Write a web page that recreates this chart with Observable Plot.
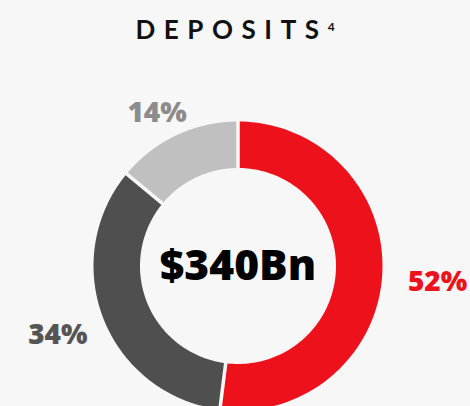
<!DOCTYPE html>
<html>
<head>
<meta charset="utf-8">
<script src="https://cdn.jsdelivr.net/npm/d3@7"></script>
<script src="https://cdn.jsdelivr.net/npm/@observablehq/plot@0.6"></script>
<style>
  html, body { margin: 0; padding: 0; background: #f7f7f7; overflow: hidden; }
  body { width: 470px; height: 406px; }
  #title { height: 60px; box-sizing: border-box; padding-top: 14px; text-align: center;
    font-family: Lato, "Open Sans", sans-serif; font-weight: 700; font-size: 26px;
    letter-spacing: 0.33em; color: #111; line-height: 30px; padding-left: 0; }
  #title sup { font-size: 12px; letter-spacing: 0; vertical-align: 0; position: relative; top: -8px; margin-left: 0; }
  #chart svg { display: block; }
</style>
</head>
<body>
<div id="title"></div>
<div id="chart"></div>
<script>
// ---- data ----
const segments = ["Segment A", "Segment B", "Segment C"];
const shares = [52, 34, 14];
const shareLabels = ["52%", "34%", "14%"];
const sliceColors = ["#ec111a", "#4f4f4f", "#c0c0c0"];
const labelColors = ["#ec111a", "#555555", "#8c8c8c"];
const centerLabel = "$340Bn";
const titleText = "DEPOSITS";
const titleNote = "4";

document.getElementById("title").innerHTML = titleText + "<sup>" + titleNote + "</sup>";

// ---- layout ----
const W = 470, H = 346;
const cx = 237.5, cy = 205.5, R = 144.5;
const inner = 98 / R;          // inner radius relative to outer
const gap = 3.5 / R;           // gap width between slices (in outer-radius units)

const arcs = d3.pie().sort(null).value(d => d.value)(
  segments.map((s, i) => ({key: s, value: shares[i], label: shareLabels[i], i}))
);

// polygon points for each slice (angles clockwise from 12 o'clock)
const pts = [];
for (const a of arcs) {
  const n = 120;
  const dOut = gap / 2, dIn = (gap / 2) / inner;
  const o0 = a.startAngle + dOut, o1 = a.endAngle - dOut;
  const i0 = a.startAngle + dIn, i1 = a.endAngle - dIn;
  for (let k = 0; k <= n; k++) {
    const t = o0 + (o1 - o0) * k / n;
    pts.push({key: a.data.key, x: Math.sin(t), y: -Math.cos(t)});
  }
  for (let k = n; k >= 0; k--) {
    const t = i0 + (i1 - i0) * k / n;
    pts.push({key: a.data.key, x: inner * Math.sin(t), y: -inner * Math.cos(t)});
  }
}

// label positions derived from each slice's mid-angle
const labelPts = arcs.map(a => {
  const m = (a.startAngle + a.endAngle) / 2;
  return {x: (3 + 197 * Math.sin(m)) / R, y: (5.3 - 174.4 * Math.cos(m)) / R, text: a.data.label, i: a.data.i};
});

const font = "'Open Sans', Lato, sans-serif";

const chart = Plot.plot({
  width: W, height: H, margin: 0,
  style: {background: "transparent", fontFamily: font, overflow: "hidden"},
  x: {domain: [-1, 1], range: [cx - R, cx + R], axis: null},
  y: {domain: [-1, 1], range: [cy - R, cy + R], axis: null},
  color: {domain: segments, range: sliceColors},
  marks: [
    Plot.line(pts, {x: "x", y: "y", z: "key", fill: "key", stroke: null, curve: "linear-closed"}),
    Plot.text([centerLabel], {x: () => 0, y: () => 0, text: d => d, fontSize: 42.5, fontWeight: 800, fill: "#000", textAnchor: "middle", lineAnchor: "middle"}),
    ...labelPts.map(d => Plot.text([d], {x: "x", y: "y", text: "text", fontSize: 28, fontWeight: 800, fill: labelColors[d.i], textAnchor: "middle", lineAnchor: "middle"}))
  ]
});
document.getElementById("chart").appendChild(chart);
</script>
</body>
</html>
